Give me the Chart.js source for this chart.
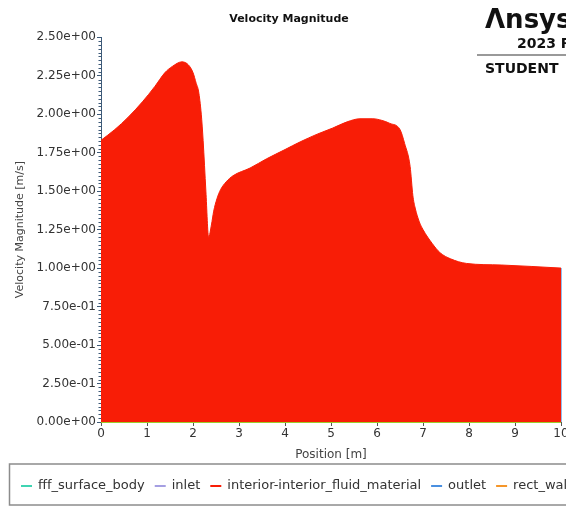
<!DOCTYPE html>
<html>
<head>
<meta charset="utf-8">
<script src="https://cdn.jsdelivr.net/npm/chart.js@4.4.1/dist/chart.umd.min.js"></script>
<style>
    html, body { margin: 0; padding: 0; background: #fff; overflow: hidden; }
    #grafico { display: block; }
</style>
</head>
<body>
<canvas id="grafico" width="566" height="506"></canvas>
<script>
// --- Datos ---
// envolvente superior de la velocidad en el interior (m/s) frente a la posición (m)
const posicion = [0, 0.3, 0.59, 0.9, 1.17, 1.39, 1.55, 1.76, 1.9, 2.0, 2.07, 2.12, 2.18, 2.22, 2.28, 2.34,
    2.4, 2.45, 2.52, 2.6, 2.72, 2.87, 3.24, 3.6, 4.0, 4.33, 4.7, 5.04, 5.35, 5.63, 5.91, 6.1, 6.28,
    6.5, 6.6, 6.72, 6.78, 6.83, 6.92, 7.0, 7.2, 7.37, 7.6, 7.95, 8.7, 10];
const velocidad = [1.83, 1.9, 1.98, 2.08, 2.18, 2.27, 2.31, 2.34, 2.32, 2.27, 2.2, 2.15, 2.0, 1.83, 1.5, 1.2,
    1.28, 1.37, 1.45, 1.51, 1.56, 1.6, 1.65, 1.71, 1.77, 1.82, 1.87, 1.91, 1.95, 1.97, 1.97, 1.96, 1.94,
    1.9, 1.81, 1.66, 1.47, 1.39, 1.3, 1.25, 1.16, 1.1, 1.06, 1.03, 1.02, 1.0];

// salida (x = 10 m) y pared inferior
const posicionSalida = [10, 10];
const velocidadSalida = [0, 1.0];
const posicionPared = [0, 10];
const velocidadPared = [0, 0];

const seriesLeyenda = ["fff_surface_body", "inlet", "interior-interior_fluid_material", "outlet", "rect_wall", "wall"];
const coloresSeries = ["#3fd4b2", "#a59fe2", "#f81d06", "#4a8fe0", "#f5962a", "#9ccc2c"];

const ticksX = [0, 10, 1];        // min, max, paso
const ticksY = [0, 2.5, 0.25];

// --- Utilidades ---
function aPuntos(xs, ys) {
    return xs.map((x, i) => ({ x, y: ys[i] }));
}

function formatearExp(v) {
    const [m, e] = Number(v).toExponential(2).split("e");
    const n = parseInt(e, 10);
    return m + "e" + (n < 0 ? "-" : "+") + String(Math.abs(n)).padStart(2, "0");
}

// marcas menores del eje y, leyenda con marco y logotipo
const extrasPlugin = {
    id: "extras",
    afterDraw(chart) {
        const ctx = chart.ctx;
        const y = chart.scales.y;
        ctx.save();

        ctx.strokeStyle = "#3d5a78";
        ctx.lineWidth = 1;
        for (let i = 0; i <= 100; i++) {
            if (i % 10 === 0) continue;
            const py = Math.round(y.getPixelForValue(i * 0.025)) + 0.5;
            ctx.beginPath();
            ctx.moveTo(y.right - 2.5, py);
            ctx.lineTo(y.right, py);
            ctx.stroke();
        }

        // leyenda
        ctx.strokeStyle = "#8c8c8c";
        ctx.lineWidth = 1.5;
        ctx.strokeRect(9.5, 464, 620, 41);
        ctx.font = '13px "DejaVu Sans"';
        ctx.textBaseline = "middle";
        let x = 21;
        chart.data.datasets.forEach(ds => {
            ctx.strokeStyle = ds.borderColor;
            ctx.lineWidth = 2;
            ctx.beginPath();
            ctx.moveTo(x, 486);
            ctx.lineTo(x + 11, 486);
            ctx.stroke();
            ctx.fillStyle = "#333";
            ctx.fillText(ds.label, x + 17, 486);
            x += 17 + ctx.measureText(ds.label).width + 10;
        });

        // logotipo
        ctx.fillStyle = "#111";
        ctx.textBaseline = "alphabetic";
        ctx.font = 'bold 26px "DejaVu Sans"';
        ctx.fillText("Λnsys", 485, 28);
        ctx.font = 'bold 14px "DejaVu Sans"';
        ctx.fillText("2023 R1", 517, 48);
        ctx.fillText("STUDENT", 485, 73);
        ctx.strokeStyle = "#777";
        ctx.lineWidth = 1.5;
        ctx.beginPath();
        ctx.moveTo(477, 55);
        ctx.lineTo(566, 55);
        ctx.stroke();

        ctx.restore();
    }
};

// --- Principal ---
document.addEventListener("DOMContentLoaded", () => {
    const ctx = document.getElementById("grafico").getContext("2d");
    const fuente = { family: "DejaVu Sans", size: 12 };

    const datasets = seriesLeyenda.map((label, i) => ({
        label,
        data: [],
        borderColor: coloresSeries[i],
        backgroundColor: coloresSeries[i],
        borderWidth: 1.5,
        pointRadius: 0,
        fill: false,
        clip: false
    }));
    // interior: área bajo la envolvente
    Object.assign(datasets[2], {
        data: aPuntos(posicion, velocidad),
        fill: "origin",
        cubicInterpolationMode: "monotone",
        borderWidth: 1
    });
    Object.assign(datasets[3], { data: aPuntos(posicionSalida, velocidadSalida), borderWidth: 1.2 });
    Object.assign(datasets[5], { data: aPuntos(posicionPared, velocidadPared), borderWidth: 2 });

    new Chart(ctx, {
        type: "line",
        data: { datasets },
        options: {
            responsive: false,
            animation: false,
            layout: { padding: { left: 12, right: 0, top: 0, bottom: 44 } },
            plugins: {
                legend: { display: false },
                tooltip: { enabled: false },
                title: {
                    display: true,
                    text: "Velocity Magnitude",
                    color: "#111",
                    font: { family: "DejaVu Sans", size: 11, weight: "bold" },
                    padding: { top: 13, bottom: 11 }
                }
            },
            scales: {
                x: {
                    type: "linear",
                    min: ticksX[0],
                    max: ticksX[1],
                    ticks: { stepSize: ticksX[2], color: "#333", font: fuente, padding: 1, maxRotation: 0 },
                    grid: { drawOnChartArea: false, drawTicks: true, tickLength: 4, color: "#555" },
                    border: { display: false },
                    title: { display: true, text: "Position [m]", color: "#444", font: fuente, padding: { top: 4, bottom: 0 } },
                    afterFit: s => { s.height = 40; s.paddingLeft = 0; s.paddingRight = 5; }
                },
                y: {
                    min: ticksY[0],
                    max: ticksY[1],
                    ticks: { stepSize: ticksY[2], color: "#333", font: fuente, padding: 1, callback: formatearExp },
                    grid: { drawOnChartArea: false, drawTicks: true, tickLength: 4, color: "#3d5a78" },
                    border: { display: true, color: "#3d5a78", width: 1 },
                    title: {
                        display: true,
                        text: "Velocity Magnitude [m/s]",
                        color: "#444",
                        font: { family: "DejaVu Sans", size: 11 },
                        padding: { top: 2, bottom: 0 }
                    },
                    afterFit: s => { s.width = 89; }
                }
            }
        },
        plugins: [extrasPlugin]
    });
});
</script>
</body>
</html>
